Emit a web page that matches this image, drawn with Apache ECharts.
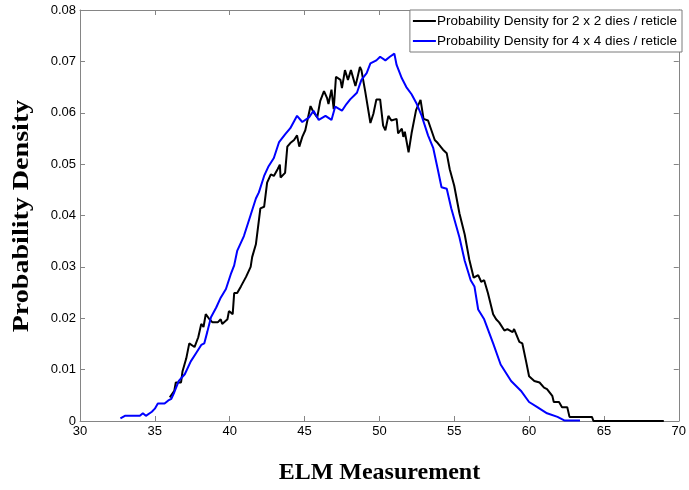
<!DOCTYPE html>
<html>
<head>
<meta charset="utf-8">
<script src="https://cdn.jsdelivr.net/npm/echarts@6/dist/echarts.min.js"></script>
<style>
  html, body { margin: 0; padding: 0; background: #fff; }
  #chart { width: 689px; height: 490px; }
</style>
</head>
<body>
<div id="chart"></div>
<script>
// ELM measurement values and estimated probability densities
const seriesNames = [
  'Probability Density for 2 x 2 dies / reticle',
  'Probability Density for 4 x 4 dies / reticle'
];
const xTitle = 'ELM Measurement';
const yTitle = 'Probability Density';

const elm2x2 = [
  36.0, 36.3, 36.4, 36.75, 36.85, 37.1, 37.3, 37.65, 37.9, 38.1, 38.25, 38.4, 38.65, 38.85, 39.2, 39.4, 39.5, 39.85, 39.95, 40.2,
  40.3, 40.5, 40.75, 41.1, 41.4, 41.5, 41.75, 42.05, 42.3, 42.5, 42.75, 42.95, 43.2, 43.35, 43.4, 43.7, 43.85, 44.05, 44.3, 44.5,
  44.65, 44.85, 45.05, 45.4, 45.6, 45.85, 46.05, 46.3, 46.5, 46.6, 46.8, 46.95, 47.1, 47.4, 47.5, 47.7, 47.9, 48.1, 48.4, 48.5,
  48.7, 48.8, 49.05, 49.4, 49.6, 49.8, 50.05, 50.25, 50.4, 50.6, 50.8, 51.15, 51.25, 51.5, 51.6, 51.7, 51.95, 52.15, 52.45, 52.75,
  52.95, 53.25, 53.7, 53.9, 54.25, 54.5, 54.7, 55.0, 55.35, 55.7, 56.0, 56.3, 56.6, 56.8, 57.0, 57.25, 57.6, 57.8, 58.0, 58.35,
  58.55, 58.9, 59.0, 59.35, 59.55, 59.8, 60.0, 60.35, 60.7, 61.0, 61.2, 61.55, 61.65, 62.0, 62.2, 62.55, 62.7, 64.2, 64.3, 69.0
];
const density2x2 = [
  0.0046, 0.0059, 0.0075, 0.0075, 0.0097, 0.0122, 0.0151, 0.0144, 0.0163, 0.0189, 0.0183, 0.0208, 0.0198, 0.0192, 0.0192, 0.0198, 0.0189, 0.0198, 0.0214, 0.0208,
  0.0249, 0.0249, 0.0262, 0.0281, 0.0300, 0.0319, 0.0344, 0.0414, 0.0417, 0.0464, 0.0480, 0.0477, 0.0490, 0.0499, 0.0474, 0.0483, 0.0534, 0.0541, 0.0547, 0.0556,
  0.0534, 0.0553, 0.0566, 0.0613, 0.0601, 0.0591, 0.0623, 0.0642, 0.0629, 0.0617, 0.0645, 0.0607, 0.0670, 0.0664, 0.0648, 0.0683, 0.0664, 0.0683, 0.0652, 0.0664,
  0.0689, 0.0683, 0.0642, 0.0580, 0.0598, 0.0626, 0.0626, 0.0575, 0.0566, 0.0594, 0.0585, 0.0588, 0.0560, 0.0569, 0.0553, 0.0563, 0.0523, 0.0560, 0.0605, 0.0625,
  0.0588, 0.0585, 0.0547, 0.0541, 0.0528, 0.0521, 0.0490, 0.0458, 0.0404, 0.0363, 0.0315, 0.0279, 0.0284, 0.0271, 0.0274, 0.0249, 0.0208, 0.0198, 0.0192, 0.0176,
  0.0179, 0.0173, 0.0179, 0.0154, 0.0151, 0.0116, 0.0087, 0.0078, 0.0075, 0.0065, 0.0062, 0.0049, 0.0037, 0.0037, 0.0027, 0.0027, 0.0008, 0.0008, 0.0000, 0.0000
];

const elm4x4 = [
  32.7, 33.0, 34.0, 34.2, 34.4, 34.8, 35.0, 35.2, 35.65, 35.9, 36.1, 36.3, 36.6, 37.0, 37.4, 37.75, 38.1, 38.3, 38.5, 38.75,
  39.1, 39.4, 39.75, 40.1, 40.3, 40.5, 40.95, 41.4, 41.75, 41.95, 42.3, 42.6, 42.95, 43.3, 43.7, 44.05, 44.5, 44.85, 45.3, 45.6,
  45.95, 46.4, 46.8, 47.05, 47.5, 47.8, 48.05, 48.5, 48.8, 49.15, 49.4, 49.8, 50.05, 50.4, 50.7, 51.0, 51.15, 51.5, 51.8, 52.15,
  52.5, 52.8, 53.25, 53.6, 53.9, 54.15, 54.5, 54.8, 55.35, 55.7, 56.1, 56.35, 56.6, 57.0, 57.6, 58.1, 58.8, 59.45, 60.0, 60.55,
  61.2, 61.9, 62.35, 63.4
];
const density4x4 = [
  0.0005, 0.0010, 0.0010, 0.0015, 0.0010, 0.0018, 0.0024, 0.0034, 0.0034, 0.0040, 0.0043, 0.0056, 0.0078, 0.0091, 0.0116, 0.0132, 0.0148, 0.0151, 0.0173, 0.0202,
  0.0221, 0.0240, 0.0257, 0.0288, 0.0303, 0.0331, 0.0360, 0.0401, 0.0433, 0.0445, 0.0477, 0.0496, 0.0512, 0.0543, 0.0558, 0.0570, 0.0594, 0.0582, 0.0591, 0.0604,
  0.0586, 0.0594, 0.0586, 0.0612, 0.0604, 0.0617, 0.0626, 0.0639, 0.0664, 0.0677, 0.0696, 0.0702, 0.0709, 0.0702, 0.0709, 0.0715, 0.0693, 0.0667, 0.0650, 0.0636,
  0.0617, 0.0596, 0.0556, 0.0531, 0.0490, 0.0455, 0.0452, 0.0414, 0.0357, 0.0312, 0.0274, 0.0262, 0.0217, 0.0198, 0.0151, 0.0110, 0.0078, 0.0059, 0.0037, 0.0027,
  0.0015, 0.0008, 0.0001, 0.0001
];

const xTicks = { min: 30, max: 70, step: 5 };
const yTicks = { min: 0, max: 0.08, step: 0.01 };

function pairs(xs, ys) {
  return xs.map((x, i) => [x, ys[i]]);
}

const frameColor = '#858585';
const sansFamily = 'Liberation Sans, Arial, sans-serif';
const serifFamily = 'Liberation Serif, Times New Roman, serif';
const tickFont = { color: '#000', fontFamily: sansFamily, fontSize: 13 };

function frameAxis(extra) {
  return Object.assign({
    type: 'value',
    axisLine: { show: true, onZero: false, lineStyle: { color: frameColor, width: 1 } },
    axisTick: { show: true, inside: true, length: 5, lineStyle: { color: frameColor } },
    axisLabel: { show: false },
    splitLine: { show: false }
  }, extra);
}

const chart = echarts.init(document.getElementById('chart'), null, { renderer: 'canvas' });

chart.setOption({
  animation: false,
  backgroundColor: '#fff',
  grid: { left: 80, top: 10, right: 7, bottom: 59, containLabel: false },
  legend: {
    data: seriesNames,
    orient: 'vertical',
    right: 7,
    top: 10,
    padding: [3, 5, 3, 3],
    itemGap: 4,
    icon: 'rect',
    itemWidth: 23,
    itemHeight: 2,
    borderColor: '#7a7a7a',
    borderWidth: 1,
    backgroundColor: '#fff',
    textStyle: { color: '#000', fontFamily: sansFamily, fontSize: 13.5, lineHeight: 16, padding: [0, 0, 0, -4] }
  },
  graphic: [
    {
      // Vertical axis title, drawn slightly stretched along its length
      type: 'text',
      x: 22,
      y: 216,
      rotation: Math.PI / 2,
      scaleX: 1.22,
      style: {
        text: yTitle,
        fill: '#000',
        font: 'bold 23px ' + serifFamily,
        textAlign: 'center',
        textVerticalAlign: 'middle'
      }
    }
  ],
  xAxis: [
    frameAxis({
      min: xTicks.min, max: xTicks.max, interval: xTicks.step,
      position: 'bottom',
      name: xTitle,
      nameLocation: 'middle',
      nameGap: 40,
      nameTextStyle: { color: '#000', fontFamily: serifFamily, fontWeight: 'bold', fontSize: 24 },
      axisLabel: Object.assign({ show: true, margin: 4 }, tickFont)
    }),
    frameAxis({
      min: xTicks.min, max: xTicks.max, interval: xTicks.step,
      position: 'top'
    })
  ],
  yAxis: [
    frameAxis({
      min: yTicks.min, max: yTicks.max, interval: yTicks.step,
      position: 'left',
      axisLabel: Object.assign({ show: true, margin: 4, formatter: v => String(+v.toFixed(2)) }, tickFont)
    }),
    frameAxis({
      min: yTicks.min, max: yTicks.max, interval: yTicks.step,
      position: 'right'
    })
  ],
  series: [
    {
      name: seriesNames[0],
      type: 'line',
      data: pairs(elm2x2, density2x2),
      symbol: 'none',
      color: '#000000',
      lineStyle: { color: '#000000', width: 2 },
      z: 2
    },
    {
      name: seriesNames[1],
      type: 'line',
      data: pairs(elm4x4, density4x4),
      symbol: 'none',
      color: '#0000ff',
      lineStyle: { color: '#0000ff', width: 2 },
      z: 3
    }
  ]
});
</script>
</body>
</html>
